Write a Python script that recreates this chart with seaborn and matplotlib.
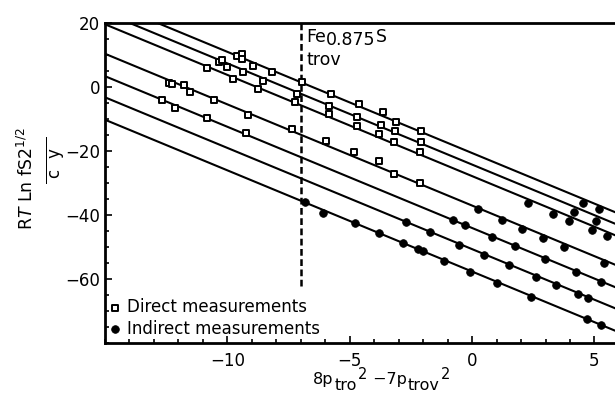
import numpy as np
import pandas as pd
import seaborn as sns
import matplotlib.pyplot as plt
from matplotlib.ticker import MultipleLocator

# values
direct_x = [-12.69, -12.13, -12.40, -12.26, -11.79, -11.51, -10.83, -10.53, -10.83, -10.33,
            -10.22, -10.01, -9.78, -9.62, -9.40, -9.42, -9.37, -8.94, -8.76, -8.56,
            -8.17, -9.17, -9.24, -7.35, -7.23, -7.15, -6.95, -5.76, -5.86, -5.83,
            -5.99, -4.63, -4.70, -4.71, -4.81, -3.65, -3.72, -3.79, -3.81, -3.13,
            -3.17, -3.20, -3.21, -2.08, -2.08, -2.11, -2.12]
direct_y = [-4.1, -6.5, 1.2, 0.9, 0.6, -1.5, 5.8, -4.1, -9.6, 7.7,
            8.4, 6.3, 2.5, 9.7, 10.2, 8.7, 4.8, 6.7, -0.6, 1.9,
            4.6, -8.8, -14.2, -13.1, -4.8, -2.2, 1.7, -2.2, -5.9, -8.5,
            -16.9, -5.4, -9.3, -12.1, -20.2, -7.7, -11.9, -14.7, -23.1, -11.0,
            -13.8, -17.3, -27.0, -13.8, -17.3, -20.4, -29.8]

indirect_x = [-6.81, -6.08, -4.77, -3.79, -2.83, -2.22, -2.02, -1.16, -0.08, 1.01, 2.42, 4.71, 5.28,
              -2.69, -1.70, -0.52, 0.48, 1.49, 2.62, 3.41, 4.34, 4.74,
              -0.79, -0.28, 0.81, 1.75, 2.99, 4.25, 5.28,
              0.26, 1.23, 2.05, 2.89, 3.74, 5.37,
              2.28, 3.29, 3.95, 4.15, 4.55, 5.17, 5.05, 4.90, 5.50]
indirect_y = [-36.0, -39.3, -42.4, -45.7, -48.7, -50.7, -51.3, -54.3, -57.7, -61.2, -65.7, -72.5, -74.4,
              -42.1, -45.2, -49.2, -52.5, -55.6, -59.3, -61.7, -64.5, -65.8,
              -41.6, -43.1, -46.8, -49.7, -53.8, -57.8, -60.8,
              -38.2, -41.6, -44.3, -47.0, -49.9, -55.0,
              -36.1, -39.5, -41.9, -39.1, -36.3, -38.1, -41.7, -44.7, -46.6]

# parallel fitted lines: y = intercept + slope * x
line_intercepts = [-20.6, -24.2, -27.8, -37.0, -44.0, -50.6, -57.6]
line_slope = -3.16

trov_x = -7.0
trov_y_end = -62

sns.set_style('ticks', {'axes.edgecolor': 'black', 'text.color': 'black',
                        'xtick.color': 'black', 'ytick.color': 'black',
                        'axes.labelcolor': 'black'})
plt.rcParams['font.family'] = ['DejaVu Sans']
plt.rcParams['mathtext.fontset'] = 'dejavusans'

W, H = 615, 398
fig = plt.figure(figsize=(W / 100, H / 100), dpi=100)
# axes run past the right edge of the picture (the original is cropped there)
ax = fig.add_axes([105 / W, 1 - 343.3 / H, 558 / W, 320.3 / H])
ax.set_xlim(-15, 7.8)
ax.set_ylim(-80, 20)

# fitted lines
xs = np.array(ax.get_xlim()) + np.array([-1, 1])
fit = pd.DataFrame([{'line': i, 'x': x, 'y': c + line_slope * x}
                    for i, c in enumerate(line_intercepts) for x in xs])
sns.lineplot(data=fit, x='x', y='y', units='line', estimator=None,
             color='black', lw=1.5, ax=ax, legend=False)

# Fe0.875S trov boundary
ax.plot([trov_x, trov_x], [trov_y_end, ax.get_ylim()[1]], color='black',
        lw=1.8, dashes=(2.7, 1.4), zorder=2)

sns.scatterplot(x=direct_x, y=direct_y, marker='s', s=21, facecolor='white',
                edgecolor='black', linewidth=1.4, label='Direct measurements',
                ax=ax, zorder=3)
sns.scatterplot(x=indirect_x, y=indirect_y, marker='o', s=30, color='black',
                edgecolor='black', linewidth=0.6, label='Indirect measurements',
                ax=ax, zorder=3)

ax.set_xlabel('')
ax.set_ylabel('')
ax.set_xticks([-10, -5, 0, 5])
ax.set_xticklabels(['\u221210', '\u22125', '0', '5'])
ax.set_yticks([-60, -40, -20, 0, 20])
ax.set_yticklabels(['\u221260', '\u221240', '\u221220', '0', '20'])
ax.xaxis.set_minor_locator(MultipleLocator(1))
ax.yaxis.set_minor_locator(MultipleLocator(5))
ax.tick_params(which='both', direction='in', width=1.2, labelsize=12,
               top=False, right=False)
ax.tick_params(which='major', length=5)
ax.tick_params(which='minor', length=3)
ax.tick_params(axis='x', pad=6)
for sp in ax.spines.values():
    sp.set_linewidth(2)

ax.legend(loc='lower left', bbox_to_anchor=(0.008, 0.018), frameon=False,
          fontsize=12, handlelength=0.7, handletextpad=0.35, labelspacing=0.2,
          borderpad=0, borderaxespad=0, markerscale=1.0)

# phase label
fe = ax.text(-6.78, 14.2, 'Fe', fontsize=12.5, va='baseline')
sub = ax.annotate('0.875', xy=(1, 0), xycoords=fe, xytext=(0, -3),
                  textcoords='offset pixels', fontsize=12.5, va='bottom')
ax.annotate('S', xy=(1, 0), xycoords=sub, xytext=(0, 3),
            textcoords='offset pixels', fontsize=12.5, va='bottom')
ax.text(-6.78, 7.0, 'trov', fontsize=12.5, va='baseline')

# x axis label, built piece by piece (full-size sub/superscripts)
base = H - 384
xlabel_parts = [('8p', 0, 11.5), ('tro', -6, 11.5), ('2', 5, 10.5),
                (' \u22127p', 0, 11.5), ('trov', -6, 11.5), ('2', 5, 10.5)]
prev = None
for s, dy, size in xlabel_parts:
    if prev is None:
        prev = ax.annotate(s, xy=(313, base + dy), xycoords='figure pixels',
                           fontsize=size, ha='left', va='baseline')
    else:
        prev = ax.annotate(s, xy=(1, base + dy), xycoords=(prev, 'figure pixels'),
                           xytext=(1, 0), textcoords='offset pixels',
                           fontsize=size, ha='left', va='baseline')

# y axis label
fig.text(33 / W, 1 - 230 / H, r'R$\mathit{T}$ Ln fS2$^{1/2}$', fontsize=12.5,
         rotation=90, rotation_mode='anchor', ha='left', va='baseline')
fig.text(60 / W, 1 - 160 / H, r'$\overline{\ \mathrm{c\ \ y}\ \ }$', fontsize=12,
         rotation=90, rotation_mode='anchor', ha='center', va='baseline')

fig.savefig('out.png', dpi=100)
